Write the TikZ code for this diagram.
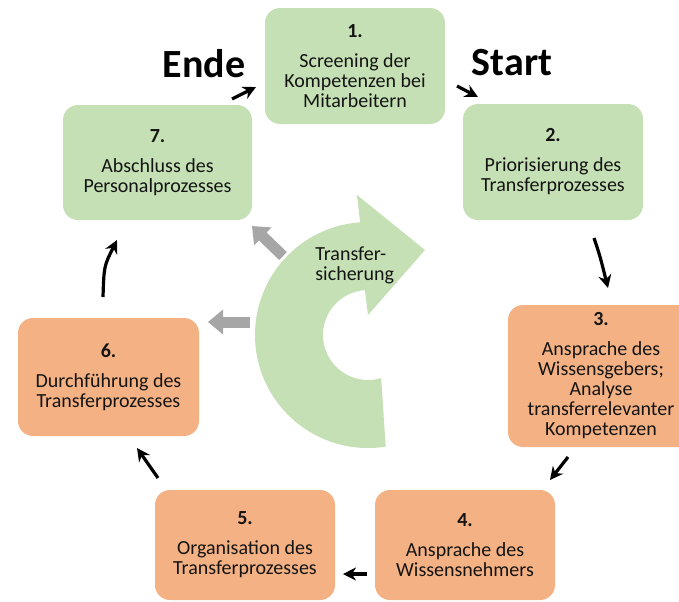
\documentclass[tikz,border=0pt]{standalone}
\usepackage{fontspec}
\setmainfont{Carlito}
\usetikzlibrary{arrows.meta}

\definecolor{boxgreen}{HTML}{C5E0B4}
\definecolor{boxorange}{HTML}{F4B183}
\definecolor{arrowgray}{HTML}{A6A6A6}
\definecolor{textdark}{HTML}{141414}

\tikzset{
  greenstep/.style={fill=boxgreen, rounded corners=7.5pt, align=center, text=textdark,
    font=\fontsize{10}{10}\selectfont, minimum width=90pt, minimum height=58pt, inner sep=2pt},
  orangestep/.style={greenstep, fill=boxorange},
  headline/.style={font=\fontsize{20}{24}\selectfont\bfseries, text=black, inner sep=0pt},
  flow/.style={draw=black, line width=1.6pt, -{Stealth[length=6.5pt,width=6.5pt]}},
  side/.style={draw=arrowgray, line width=5.5pt, -{Triangle[length=7.5pt,width=12pt]}}
}

\begin{document}
\begin{tikzpicture}[x=0.5pt,y=-0.5pt]
\clip (0,0) rectangle (679,601);

 \coordinate (ctr) at (368,335);
  \fill[boxgreen] ([shift={(81:113)}]ctr) arc[start angle=81, end angle=266, radius=113]
     -- (357,195) -- (425,250) -- (368,315) -- ([shift={(266:45)}]ctr)
     arc[start angle=266, end angle=73, radius=45] -- cycle;
  \node[anchor=north west, inner sep=0pt, align=left, text=textdark,
     font=\fontsize{10}{10}\selectfont] (sicherung) at (315,246) {Transfer-\\sicherung};

 \coordinate (g1s) at (283,256); \coordinate (g1e) at (252,226);
 \coordinate (g2s) at (250,322); \coordinate (g2e) at (208,322);
  \draw[side] (g1s) -- (g1e);
  \draw[side] (g2s) -- (g2e);

 \node[greenstep] (b1) at (355,66) {\textbf{1.}\\[5pt]Screening der\\Kompetenzen bei\\Mitarbeitern};
 \node[greenstep] (b2) at (553,162) {\textbf{2.}\\[5pt]Priorisierung des\\Transferprozesses};
 \node[orangestep, minimum width=93pt, minimum height=71pt] (b3) at (601,376)
   {\textbf{3.}\\[5pt]Ansprache des\\Wissensgebers;\\Analyse\\transferrelevanter\\Kompetenzen};
 \node[orangestep, minimum height=55pt] (b4) at (465,545) {\textbf{4.}\\[5pt]Ansprache des\\Wissensnehmers};
 \node[orangestep, minimum height=55pt] (b5) at (245,545) {\textbf{5.}\\[5pt]Organisation des\\Transferprozesses};
 \node[orangestep, minimum width=90.5pt, minimum height=59pt] (b6) at (108.5,377) {\textbf{6.}\\[5pt]Durchführung des\\Transferprozesses};
 \node[greenstep, minimum width=94.5pt, minimum height=57.5pt] (b7) at (157.5,162.5) {\textbf{7.}\\[5pt]Abschluss des\\Personalprozesses};

 \node[headline] (ende) at (204,64) {Ende};
 \node[headline] (start) at (512,63) {Start};

 \coordinate (a71s) at (232,99); \coordinate (a71e) at (256,87);
 \coordinate (a12s) at (457,86); \coordinate (a12e) at (478,97);
 \coordinate (a23s) at (594,238); \coordinate (a23e) at (608,288);
 \coordinate (a34s) at (568,457); \coordinate (a34e) at (550,480);
 \coordinate (a45s) at (367,574); \coordinate (a45e) at (343,574);
 \coordinate (a56s) at (158,478); \coordinate (a56e) at (137,448);
 \coordinate (a67s) at (103,297); \coordinate (a67e) at (117,240);
  \draw[flow] (a71s) -- (a71e);
  \draw[flow] (a12s) -- (a12e);
  \draw[flow] (a23s) .. controls (600,256) .. (a23e);
  \draw[flow] (a34s) -- (a34e);
  \draw[flow] (a45s) -- (a45e);
  \draw[flow] (a56s) -- (a56e);
  \draw[flow] (a67s) .. controls (104,266) .. (a67e);
\end{tikzpicture}
\end{document}
